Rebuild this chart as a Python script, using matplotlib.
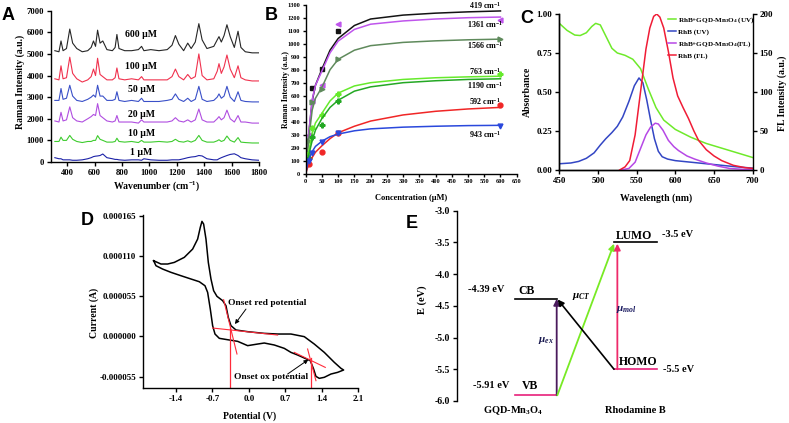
import matplotlib
matplotlib.use("Agg")
import matplotlib.pyplot as plt
from matplotlib.ticker import FuncFormatter

plt.rcParams.update({
    'font.family': ['Liberation Serif', 'DejaVu Serif'],
    'font.weight': 'bold',
    'axes.labelweight': 'bold',
    'mathtext.fontset': 'custom',
    'mathtext.rm': 'Liberation Serif:bold',
    'mathtext.bf': 'Liberation Serif:bold',
    'mathtext.it': 'Liberation Serif:italic',
    'mathtext.default': 'bf',
    'axes.unicode_minus': False,
    'axes.linewidth': 1.0,
    'xtick.direction': 'out', 'ytick.direction': 'out',
    'xtick.major.width': 1.0, 'ytick.major.width': 1.0,
    'xtick.major.size': 3, 'ytick.major.size': 3,
    'xtick.major.pad': 2, 'ytick.major.pad': 2,
})

W, H = 789, 423

# ---------------- Panel A data ----------------
wavenumber = [310, 340, 355, 370, 395, 419, 440, 470, 510, 550, 575, 592, 607, 622, 640, 660, 690,
              730, 750, 763, 778, 820, 870, 920, 943, 960, 1010, 1070, 1130, 1165, 1190, 1215, 1250,
              1280, 1305, 1335, 1361, 1385, 1420, 1470, 1495, 1508, 1525, 1545, 1566, 1590, 1620,
              1647, 1668, 1700, 1750, 1800]
raman_600 = [5150, 5100, 5600, 5150, 5250, 6150, 5500, 5250, 5100, 5150, 5300, 5600, 5350, 6100, 5500,
             5600, 5200, 5150, 5300, 5900, 5250, 5150, 5150, 5200, 5350, 5150, 5200, 5150, 5200, 5400,
             5850, 5450, 5150, 5500, 5250, 5550, 6400, 5650, 5250, 5350, 5650, 5800, 5550, 5850, 6350,
             5800, 5300, 6050, 5300, 5100, 5050, 5050]
raman_100 = [3850, 3800, 4450, 3850, 3900, 4850, 4100, 3850, 3700, 3800, 3950, 4300, 4000, 4800, 4050,
             3950, 3800, 3800, 3900, 4350, 3850, 3800, 3850, 3800, 3950, 3800, 3800, 3800, 3800, 3950,
             4300, 3950, 3800, 4050, 3850, 3950, 5000, 4000, 3800, 3850, 4200, 4550, 4100, 4400, 4950,
             4300, 3900, 4450, 3900, 3800, 3750, 3750]
raman_50 = [2850, 2850, 3400, 2900, 2950, 3550, 3050, 2850, 2800, 2900, 3000, 3100, 3000, 3550, 3050,
            3050, 2850, 2850, 2900, 3250, 2850, 2800, 2850, 2800, 2950, 2800, 2800, 2800, 2850, 2900,
            3150, 2900, 2800, 2950, 2800, 2900, 3500, 2900, 2800, 2850, 3000, 3150, 2950, 3050, 3500,
            3000, 2800, 3250, 2850, 2800, 2780, 2780]
raman_20 = [1900, 1850, 2300, 1900, 1950, 2550, 2050, 1900, 1850, 2000, 2100, 2200, 2150, 2700, 2150,
            2050, 1900, 1850, 1900, 2150, 1850, 1850, 1850, 1800, 1950, 1850, 1850, 1850, 1850, 1900,
            2050, 1900, 1850, 1950, 1850, 1950, 2450, 1950, 1850, 1850, 2000, 2100, 1950, 2050, 2400,
            2000, 1850, 2150, 1850, 1850, 1800, 1800]
raman_10 = [950, 950, 1150, 1000, 1000, 1230, 1050, 950, 900, 950, 950, 1000, 1000, 1220, 1050,
            1000, 920, 920, 950, 1100, 950, 920, 950, 900, 1000, 920, 920, 950, 920, 950,
            1050, 950, 920, 980, 920, 1000, 1230, 1000, 920, 920, 980, 1030, 950, 1000, 1200,
            1000, 920, 1130, 920, 900, 880, 880]
raman_1 = [200, 150, 150, 100, 100, 100, 80, 80, 100, 150, 200, 250, 270, 280, 300,
           370, 200, 150, 120, 120, 100, 80, 100, 100, 80, 150, 100, 80, 80, 100,
           100, 100, 150, 200, 230, 250, 300, 280, 150, 100, 100, 150, 200, 250, 300,
           350, 380, 300, 200, 150, 100, 80]
spectra_labels = ["600 µM", "100 µM", "50 µM", "20 µM", "10 µM", "1 µM"]
spectra_label_y = [5880, 4420, 3340, 2190, 1340, 450]
spectra_colors = ["#262626", "#f0324e", "#3a50c8", "#b04ee0", "#3ecc2e", "#1c22a8"]

# ---------------- Panel B data ----------------
conc_points = [10, 20, 50, 100, 600]
b_419 = [None, 657, 803, 1098, None]
b_1361 = [300, 560, 682, 1148, 1180]
b_1566 = [250, 555, 649, 882, 1035]
b_763 = [160, 352, 451, 612, 765]
b_1190 = [120, 283, 376, 562, None]
b_592 = [72, None, 169, 316, 528]
b_943 = [100, 163, 246, 315, 368]
fit_conc = [0, 5, 10, 20, 30, 50, 75, 100, 150, 200, 300, 400, 500, 600]
fit_419 = [0, 180, 320, 560, 680, 805, 950, 1040, 1140, 1190, 1220, 1235, 1245, 1252]
fit_1361 = [0, 190, 330, 570, 680, 790, 930, 1020, 1110, 1150, 1175, 1190, 1200, 1205]
fit_1566 = [0, 150, 280, 490, 580, 665, 800, 880, 950, 985, 1010, 1022, 1030, 1035]
fit_763 = [0, 100, 180, 310, 390, 465, 560, 620, 675, 700, 725, 738, 745, 750]
fit_1190 = [0, 80, 150, 255, 335, 425, 510, 565, 635, 668, 700, 715, 725, 730]
fit_592 = [0, 40, 75, 125, 165, 215, 270, 315, 365, 405, 452, 480, 498, 510]
fit_943 = [0, 65, 115, 170, 210, 250, 285, 305, 330, 345, 358, 365, 370, 372]
band_names = ["419", "1361", "1566", "763", "1190", "592", "943"]
band_label_y = [1290, 1150, 985, 785, 682, 559, 298]

# ---------------- Panel C data ----------------
wl_green = [450, 460, 470, 477, 485, 492, 497, 503, 510, 518, 525, 535, 545, 555, 565, 575, 585,
            600, 620, 640, 660, 680, 700]
abs_mix = [0.94, 0.895, 0.865, 0.862, 0.88, 0.92, 0.94, 0.93, 0.86, 0.78, 0.75, 0.735, 0.71, 0.65,
           0.52, 0.40, 0.32, 0.26, 0.21, 0.17, 0.14, 0.11, 0.08]
wl_blue = [450, 465, 475, 485, 495, 503, 510, 518, 525, 532, 540, 547, 553, 558, 563, 568, 573, 578,
           583, 590, 600, 620, 640, 660, 680, 700]
abs_rhb = [0.04, 0.045, 0.055, 0.075, 0.11, 0.16, 0.20, 0.24, 0.28, 0.34, 0.44, 0.54, 0.59, 0.56,
           0.45, 0.32, 0.20, 0.12, 0.085, 0.07, 0.06, 0.05, 0.04, 0.03, 0.02, 0.012]
wl_red = [528, 535, 541, 548, 556, 562, 567, 572, 576, 580, 585, 591, 597, 603, 610, 617, 624, 630,
          640, 650, 660, 675, 690, 700]
fl_rhb = [0, 4, 12, 45, 108, 155, 182, 197, 200, 196, 182, 152, 118, 95, 80, 66, 50, 38, 26, 18,
          12, 6, 3, 2]
wl_purple = [530, 540, 548, 556, 562, 568, 574, 578, 584, 591, 598, 604, 615, 625, 640, 655, 670,
             685, 700]
fl_mix = [0, 2, 10, 30, 45, 55, 60, 59, 51, 38, 30, 25, 18, 14, 9, 5, 2, 1, 0.5]

# ---------------- Panel D data ----------------
cv_potential = [-1.829, -1.688, -1.560, -1.432, -1.240, -1.080, -0.984, -0.933, -0.901, -0.869,
                -0.824, -0.779, -0.728, -0.677, -0.613, -0.504, -0.440, -0.396, -0.344, -0.248,
                -0.024, 0.295, 0.551, 0.807, 1.063, 1.255, 1.447, 1.639, 1.767, 1.818,
                1.703, 1.575, 1.447, 1.351, 1.287, 1.242, 1.178, 1.063, 0.935, 0.807, 0.679,
                0.487, 0.295, 0.167, -0.024, -0.216, -0.408, -0.568, -0.651, -0.696, -0.741,
                -0.792, -0.843, -0.952, -1.112, -1.304, -1.496, -1.656, -1.784, -1.829]
cv_current_uA = [103.5, 99.0, 99.0, 101.2, 108.1, 119.4, 133.1, 149.1, 157.3, 153.6,
                 133.1, 101.2, 78.5, 62.5, 54.8, 48.9, 42.0, 26.1, 14.7, 8.8,
                 6.5, 4.2, 3.3, 3.3, -0.3, -10.4, -21.8, -35.4, -43.6, -45.9,
                 -49.1, -51.4, -55.9, -57.3, -54.6, -44.5, -33.1, -29.5, -25.4, -21.8, -16.3,
                 -11.7, -9.0, -10.4, -12.6, -6.7, -4.5, -2.6, 3.3, 14.7, 37.4,
                 60.2, 69.3, 74.8, 78.5, 83.0, 87.6, 92.1, 96.7, 103.5]
onset_red_V = -0.364
onset_ox_V = 1.191

# ---------------- Panel E data ----------------
level_names = ["CB", "VB", "LUMO", "HOMO"]
level_energy = [-4.39, -5.91, -3.5, -5.5]
level_text = ["-4.39 eV", "-5.91 eV", "-3.5 eV", "-5.5 eV"]

fig = plt.figure(figsize=(W / 100, H / 100), dpi=100)


def rect(l, r, t, b):
    return [l / W, 1 - b / H, (r - l) / W, (b - t) / H]


def style(ax, fs):
    for s in ['top', 'right']:
        ax.spines[s].set_visible(False)
    ax.tick_params(labelsize=fs)
    for lab in ax.get_xticklabels() + ax.get_yticklabels():
        lab.set_fontweight('bold')


# ---------- A ----------
axA = fig.add_axes(rect(51, 259, 10.7, 162))
for ys, c in zip([raman_600, raman_100, raman_50, raman_20, raman_10, raman_1], spectra_colors):
    axA.plot(wavenumber, ys, color=c, lw=0.8)
for lab, yy in zip(spectra_labels, spectra_label_y):
    axA.text(940, yy, lab, fontsize=7, ha='center', va='center', fontweight='bold')
axA.set_xlim(282, 1800)
axA.set_ylim(0, 7000)
axA.set_xticks(range(400, 1801, 200))
axA.set_yticks(range(0, 7001, 1000))
style(axA, 6.2)
axA.set_xlabel("Wavenumber (cm$^{-1}$)", fontsize=7)
axA.set_ylabel("Raman Intensity (a.u.)", fontsize=7)
axA.xaxis.set_label_coords(0.508, -0.112)
axA.yaxis.set_label_coords(-0.123, 0.53)

# ---------- B ----------
axB = fig.add_axes(rect(305.7, 516.7, 4.7, 173.7))
b_styles = [
    (b_419, fit_419, "#141414", 's'),
    (b_1361, fit_1361, "#bf55ec", '<'),
    (b_1566, fit_1566, "#5f8a5c", '>'),
    (b_763, fit_763, "#66ea2c", 'P'),
    (b_1190, fit_1190, "#24a824", 'P'),
    (b_592, fit_592, "#f02626", 'o'),
    (b_943, fit_943, "#2a48dc", 'v'),
]
for pts, fit, c, m in b_styles:
    axB.plot(fit_conc, fit, color=c, lw=1.1)
    xs = [x for x, y in zip(conc_points, pts) if y is not None]
    ys = [y for y in pts if y is not None]
    axB.plot(xs, ys, ls='none', marker=m, color=c, ms=3.5, mec=c)
for name, yy in zip(band_names, band_label_y):
    axB.text(552, yy, name + " cm$^{-1}$", fontsize=5.8, ha='center', va='center', fontweight='bold')
axB.set_xlim(0, 650)
axB.set_ylim(0, 1300)
axB.set_xticks(range(0, 651, 50))
axB.set_yticks(range(0, 1301, 100))
style(axB, 4.6)
axB.tick_params(length=2)
axB.set_xlabel("Concentration (µM)", fontsize=6)
axB.set_ylabel("Raman Intensity (a.u.)", fontsize=5.7)
axB.xaxis.set_label_coords(0.5, -0.12)
axB.yaxis.set_label_coords(-0.075, 0.5)

# ---------- C ----------
axC = fig.add_axes(rect(559.3, 752.7, 14, 170))
axC2 = axC.twinx()
h1, = axC.plot(wl_green, abs_mix, color="#6eea2a", lw=1.1, label="RhB+GQD-Mn$_3$O$_4$ (UV)")
h2, = axC.plot(wl_blue, abs_rhb, color="#3346c4", lw=1.1, label="RhB (UV)")
h3, = axC2.plot(wl_purple, fl_mix, color="#b648e6", lw=1.1, label="RhB+GQD-Mn$_3$O$_4$(FL)")
h4, = axC2.plot(wl_red, fl_rhb, color="#f01c36", lw=1.1, label="RhB (FL)")
axC.set_xlim(450, 700)
axC.set_ylim(0, 1.0)
axC2.set_ylim(0, 200)
axC.set_xticks(range(450, 701, 50))
axC.set_yticks([0, 0.25, 0.5, 0.75, 1.0])
axC.yaxis.set_major_formatter(FuncFormatter(lambda v, p: f"{v:.2f}"))
axC2.set_yticks(range(0, 201, 50))
for ax in (axC, axC2):
    ax.spines['top'].set_visible(False)
    ax.tick_params(labelsize=6.5)
axC.spines['right'].set_visible(False)
for lab in axC.get_xticklabels() + axC.get_yticklabels() + axC2.get_yticklabels():
    lab.set_fontweight('bold')
axC.set_xlabel("Wavelength (nm)", fontsize=7)
axC.set_ylabel("Absorbance", fontsize=7)
axC2.set_ylabel("FL Intensity (a.u.)", fontsize=7)
axC.xaxis.set_label_coords(0.498, -0.15)
axC.yaxis.set_label_coords(-0.141, 0.5)
axC2.yaxis.set_label_coords(1.128, 0.49)
fig.legend(handles=[h1, h2, h3, h4], loc='upper left', bbox_to_anchor=(668 / W, 1 - 15 / H),
           frameon=False, handlelength=1.1, handletextpad=0.3, labelspacing=0.55,
           borderaxespad=0, borderpad=0, prop={'weight': 'bold', 'size': 5.1})

# ---------- D ----------
axD = fig.add_axes(rect(143.3, 358.3, 215, 388.3))
axD.plot(cv_potential, cv_current_uA, color='black', lw=1.1)
red = "#ff2a3a"
axD.plot([-0.696, 0.551], [11.5, 1.9], color=red, lw=0.8)
axD.plot([-0.485, -0.229], [50.2, -24.0], color=red, lw=0.8)
axD.plot([onset_red_V, onset_red_V], [12, -71], color=red, lw=0.9)
axD.plot([0.871, 1.466], [-21.8, -42.3], color=red, lw=0.8)
axD.plot([1.127, 1.287], [-17.2, -60.5], color=red, lw=0.8)
axD.plot([onset_ox_V, onset_ox_V], [-30, -71], color=red, lw=0.9)
axD.text(-0.396, 46.1, "Onset red potential", fontsize=6.8, ha='left', va='center', fontweight='bold')
axD.annotate("", xy=(-0.268, 16.9), xytext=(-0.056, 37.4),
             arrowprops=dict(arrowstyle='-|>', color='black', lw=0.7, mutation_scale=6,
                             shrinkA=0, shrinkB=0))
axD.text(-0.287, -55, "Onset ox potential", fontsize=6.8, ha='left', va='center', fontweight='bold')
axD.annotate("", xy=(1.14, -31.8), xytext=(0.743, -51.4),
             arrowprops=dict(arrowstyle='-|>', color='black', lw=0.7, mutation_scale=6,
                             shrinkA=0, shrinkB=0))
axD.set_xlim(-2.027, 2.1)
axD.set_ylim(-70.9, 166)
axD.set_xticks([-1.4, -0.7, 0.0, 0.7, 1.4, 2.1])
axD.xaxis.set_major_formatter(FuncFormatter(lambda v, p: f"{v:.1f}"))
axD.set_yticks([-55, 0, 55, 110, 165])
axD.yaxis.set_major_formatter(FuncFormatter(lambda v, p: f"{v * 1e-6:.6f}"))
style(axD, 6.5)
axD.set_xlabel("Potential (V)", fontsize=7)
axD.set_ylabel("Current (A)", fontsize=7)
axD.xaxis.set_label_coords(0.496, -0.131)
axD.yaxis.set_label_coords(-0.208, 0.434)

# ---------- E ----------
axE = fig.add_axes(rect(456.7, 790, 207.5, 420))
axE.set_xlim(0, 10)
axE.set_ylim(-6.3, -2.95)
for s in ['top', 'right', 'bottom']:
    axE.spines[s].set_visible(False)
axE.spines['left'].set_bounds(-6.0, -3.0)
axE.set_xticks([])
axE.set_yticks([-3.0, -3.5, -4.0, -4.5, -5.0, -5.5, -6.0])
axE.yaxis.set_major_formatter(FuncFormatter(lambda v, p: f"{v:.1f}"))
axE.tick_params(labelsize=7)
for lab in axE.get_yticklabels():
    lab.set_fontweight('bold')
axE.set_ylabel("E (eV)", fontsize=7.5)
axE.yaxis.set_label_coords(-0.089, 0.565)

mag = "#e8207a"
level_x = [(1.75, 3.0), (1.75, 3.0), (4.72, 6.0), (4.72, 6.0)]
level_col = ['black', mag, 'black', mag]
for (x0, x1), e, c in zip(level_x, level_energy, level_col):
    axE.plot([x0, x1], [e, e], color=c, lw=1.2)

arw = dict(shrinkA=0, shrinkB=0, mutation_scale=9)
axE.annotate("", xy=(3.0, level_energy[0]), xytext=(3.0, level_energy[1]),
             arrowprops=dict(arrowstyle='-|>', color="#4a1a5c", lw=1.3, **arw))
axE.annotate("", xy=(4.72, level_energy[2] - 0.02), xytext=(3.02, level_energy[1]),
             arrowprops=dict(arrowstyle='-|>', color="#78ea24", lw=1.3, **arw))
axE.annotate("", xy=(3.03, level_energy[0] - 0.01), xytext=(4.72, level_energy[3]),
             arrowprops=dict(arrowstyle='-|>', color="black", lw=1.2, **arw))
axE.annotate("", xy=(4.82, level_energy[2] - 0.02), xytext=(4.82, level_energy[3]),
             arrowprops=dict(arrowstyle='-|>', color="#ee2a6a", lw=1.3, **arw))

axE.text(0.33, -4.25, level_text[0], fontsize=7.5, ha='left', va='center', fontweight='bold')
axE.text(2.1, -4.27, "CB", fontsize=8.5, ha='center', va='center', fontweight='bold')
axE.text(0.5, -5.75, level_text[1], fontsize=7.5, ha='left', va='center', fontweight='bold')
axE.text(2.2, -5.77, "VB", fontsize=8.5, ha='center', va='center', fontweight='bold')
axE.text(5.33, -3.40, "LUMO", fontsize=8.5, ha='center', va='center', fontweight='bold')
axE.text(6.15, -3.37, level_text[2], fontsize=7.5, ha='left', va='center', fontweight='bold')
axE.text(5.45, -5.39, "HOMO", fontsize=8.5, ha='center', va='center', fontweight='bold')
axE.text(6.18, -5.50, level_text[3], fontsize=7.5, ha='left', va='center', fontweight='bold')
axE.text(1.7, -6.15, "GQD-Mn$_3$O$_4$", fontsize=7.5, ha='center', va='center', fontweight='bold')
axE.text(5.35, -6.15, "Rhodamine B", fontsize=7.5, ha='center', va='center', fontweight='bold')
axE.text(3.75, -4.36, r"$\mathit{\mu_{CT}}$", fontsize=8, ha='center', va='center')
axE.text(2.68, -5.04, r"$\mathit{\mu_{ex}}$", fontsize=8, ha='center', va='center', color="#1a1a50")
axE.text(5.08, -4.56, r"$\mathit{\mu_{mol}}$", fontsize=8, ha='center', va='center', color="#1a1a60")

# ---------- panel letters ----------
for letter, (px, py) in zip("ABCDE", [(8.3, 15), (271.7, 15), (526.7, 18.3), (87.5, 220), (411.7, 223.3)]):
    fig.text(px / W, 1 - py / H, letter, fontsize=13, fontweight='bold', family='Liberation Sans',
             ha='center', va='center')

fig.savefig("out.png", dpi=100)
